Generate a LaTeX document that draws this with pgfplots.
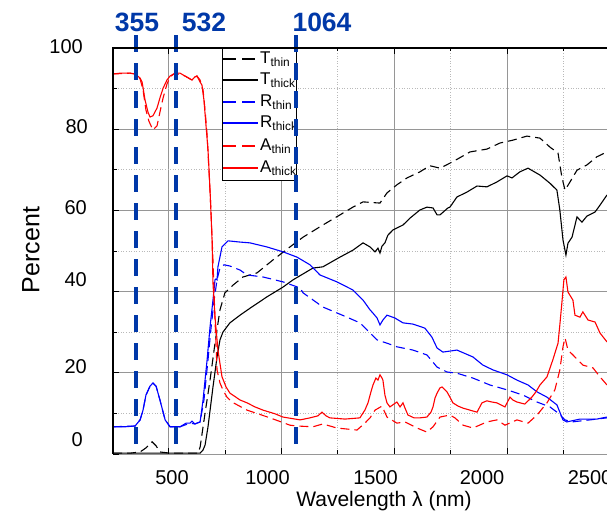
\documentclass[border=0pt]{standalone}
\usepackage{fontspec}
\setmainfont{Liberation Sans}
\usepackage{pgfplots}
\pgfplotsset{compat=1.18}
\definecolor{lblue}{RGB}{0,56,168}
\definecolor{gridmaj}{RGB}{150,150,150}
\definecolor{gridmin}{RGB}{185,185,185}
\begin{document}
\begin{tikzpicture}[x=1pt,y=1pt]
\useasboundingbox (-113,-62) rectangle (494,454);
\clip (-113,-62) rectangle (494,454);
\begin{axis}[
  at={(0,0)}, anchor=south west,
  scale only axis, width=494pt, height=406pt,
  xmin=254, xmax=2443, ymin=0, ymax=100,
  clip=false,
  axis line style={draw=none},
  xtick={500,1000,1500,2000},
  ytick={0,20,40,60,80,100},
  minor xtick={750,1250,1750,2250},
  minor ytick={10,30,50,70,90},
  xticklabels={,,,,}, yticklabels={,,,,,,},
  ytick pos=left,
  tick align=inside,
  major tick length=6pt, minor tick length=3.5pt,
  tick style={black, line width=0.8pt},
  grid=both,
  major grid style={gridmaj, line width=0.6pt},
  minor grid style={gridmin, line width=0.6pt, dotted},
]
% T thin
\addplot[black, line width=1.1pt, dash pattern=on 9pt off 5pt, forget plot] coordinates {
(254,0.2) (329,0.2) (374,0.5) (400,1.5) (427,3.0) (445,2.0) (462,0.5) (507,0.2) (631,0.2)
(640,1.7) (662,10.1) (684,18.2) (706,27.3) (728,35.5) (750,39.7) (786,41.6) (830,43.6)
(892,44.6) (963,47.8) (1038,51.0) (1096,53.4) (1184,56.4) (1260,58.9) (1317,60.8)
(1362,62.1) (1437,61.8) (1468,64.3) (1512,66.3) (1557,68.0) (1614,69.5) (1658,71.0)
(1703,70.4) (1760,72.0) (1836,74.4) (1911,75.1) (1969,76.6) (2026,77.3) (2088,78.3)
(2146,77.8) (2190,75.6) (2226,74.1) (2243,68.2) (2257,65.0) (2279,67.0) (2310,69.9)
(2354,71.2) (2398,73.2) (2443,74.4)};
% T thick
\addplot[black, line width=1.1pt, forget plot] coordinates {
(254,0.2) (640,0.2) (653,1.0) (662,2.2) (675,6.7) (697,16.5) (715,23.9) (728,28.1)
(741,30.0) (772,32.3) (817,34.2) (861,35.9) (936,38.7) (1007,41.1) (1052,42.9)
(1140,45.8) (1184,46.1) (1260,48.5) (1317,50.2) (1362,52.0) (1393,51.0) (1415,49.8)
(1428,50.7) (1437,49.5) (1446,51.2) (1459,52.0) (1472,53.9) (1495,55.2) (1539,56.4)
(1570,58.1) (1614,60.1) (1645,60.8) (1672,60.6) (1690,58.9) (1703,58.9) (1738,60.6)
(1747,60.8) (1778,63.3) (1822,64.5) (1867,66.0) (1911,65.8) (1955,67.0) (2000,68.5)
(2022,68.0) (2057,69.5) (2093,70.4) (2146,68.7) (2190,66.7) (2221,65.0) (2234,60.1)
(2248,52.7) (2261,49.0) (2270,51.9) (2288,53.4) (2310,58.4) (2332,57.1) (2354,58.6)
(2390,59.6) (2412,61.3) (2443,63.8)};
% R thin
\addplot[blue, line width=1.1pt, dash pattern=on 9pt off 5pt, forget plot] coordinates {
(254,6.7) (352,6.9) (374,8.4) (387,10.8) (400,14.5) (418,16.7) (431,17.5) (445,16.7)
(462,13.3) (485,8.4) (507,6.7) (551,6.7) (595,7.6) (617,7.4) (640,7.9) (657,13.3)
(675,23.2) (688,30.8) (702,37.9) (715,42.9) (728,45.8) (746,46.6) (772,46.3) (817,45.3)
(848,44.1) (919,43.6) (1007,42.4) (1083,40.9) (1096,39.7) (1184,36.2) (1291,33.7)
(1348,32.3) (1424,28.1) (1468,27.3) (1512,26.4) (1583,25.6) (1645,24.4) (1690,21.4)
(1734,20.2) (1778,19.9) (1849,18.7) (1924,17.0) (2000,15.8) (2071,14.5) (2133,12.8)
(2190,11.6) (2226,10.1) (2257,8.4) (2288,7.9) (2367,8.4) (2443,8.9)};
% R thick
\addplot[blue, line width=1.1pt, forget plot] coordinates {
(254,6.7) (307,6.7) (352,6.9) (374,8.4) (387,10.8) (400,14.5) (418,16.7) (431,17.5)
(445,16.7) (462,13.3) (485,8.4) (507,6.7) (551,6.7) (578,7.6) (595,7.6) (604,8.1)
(617,7.4) (640,7.9) (653,13.3) (671,23.2) (684,31.3) (697,37.9) (706,42.9) (710,43.1)
(715,42.9) (719,46.1) (737,51.0) (764,52.5) (817,52.2) (861,52.0) (936,51.0)
(1007,49.8) (1069,48.5) (1127,46.6) (1171,44.1) (1246,42.4) (1317,40.4) (1362,37.9)
(1393,35.5) (1406,34.7) (1424,33.5) (1437,31.8) (1450,33.0) (1468,34.2) (1503,33.5)
(1539,32.3) (1583,32.0) (1636,31.0) (1667,28.8) (1690,26.1) (1716,25.1) (1778,25.6)
(1849,23.9) (1893,21.9) (1938,20.7) (2000,19.5) (2044,18.2) (2093,17.0) (2133,15.3)
(2177,14.0) (2221,12.1) (2248,8.4) (2265,7.9) (2323,8.6) (2398,8.6) (2443,9.1)};
% A thin
\addplot[red, line width=1.1pt, dash pattern=on 9pt off 5pt, forget plot] coordinates {
(254,93.6) (329,93.8) (352,93.6) (374,92.4) (387,89.7) (400,84.7) (413,82.0) (431,79.8)
(449,80.8) (462,84.2) (476,87.7) (493,91.1) (507,92.9) (529,93.8) (573,93.1) (604,92.1)
(626,93.1) (640,92.1) (653,89.7) (662,84.7) (671,78.6) (679,70.0) (688,60.1) (697,47.8)
(706,33.0) (715,20.7) (728,17.5) (741,15.8) (759,14.0) (781,12.8) (848,10.8) (950,8.9)
(1038,7.1) (1069,6.9) (1140,6.7) (1184,7.4) (1246,6.4) (1335,5.9) (1370,7.6) (1393,8.9)
(1415,10.8) (1446,11.8) (1468,9.1) (1512,7.6) (1548,7.9) (1601,6.4) (1645,5.4)
(1672,6.7) (1703,9.1) (1747,9.6) (1769,8.9) (1805,7.1) (1849,6.4) (1911,7.9) (1955,8.4)
(1991,7.1) (2044,8.4) (2093,7.6) (2133,9.6) (2177,12.6) (2212,15.8) (2234,20.7)
(2248,26.4) (2257,28.6) (2270,25.6) (2292,24.4) (2336,21.9) (2381,21.2) (2412,19.0)
(2443,17.0)};
% A thick
\addplot[red, line width=1.1pt, forget plot] coordinates {
(254,93.6) (285,93.8) (329,93.8) (352,93.6) (374,92.6) (383,91.6) (396,87.2) (409,84.2)
(418,83.0) (431,83.3) (449,85.2) (462,87.7) (476,90.1) (493,92.1) (507,93.1) (529,93.8)
(551,93.8) (573,93.1) (595,92.4) (604,92.1) (617,92.9) (626,93.1) (640,91.6) (648,90.9)
(657,87.2) (666,81.0) (675,74.9) (684,65.0) (693,52.7) (697,42.1) (706,33.7) (719,25.6)
(737,19.0) (755,16.5) (772,15.0) (817,13.3) (848,12.6) (883,11.6) (919,10.8) (972,9.9)
(1007,9.1) (1083,8.4) (1127,8.9) (1162,9.4) (1180,10.3) (1198,9.4) (1215,8.9) (1282,8.6)
(1348,8.9) (1370,10.8) (1384,12.6) (1397,15.3) (1406,17.0) (1419,18.7) (1428,18.2)
(1437,19.5) (1446,18.7) (1450,18.2) (1459,14.5) (1468,12.6) (1481,11.6) (1499,12.3)
(1512,12.8) (1526,11.6) (1539,12.6) (1548,11.3) (1561,9.6) (1588,8.9) (1614,8.9)
(1645,9.1) (1663,10.3) (1672,11.6) (1681,13.8) (1690,15.0) (1703,16.3) (1712,16.5)
(1734,15.3) (1747,14.0) (1760,12.6) (1783,11.8) (1805,11.3) (1836,10.8) (1867,10.3)
(1889,12.6) (1911,13.1) (1933,12.8) (1955,12.6) (1991,11.6) (2013,14.0) (2026,13.3)
(2044,12.8) (2079,12.3) (2110,14.0) (2128,15.3) (2146,17.0) (2177,19.0) (2203,23.2)
(2226,27.3) (2234,31.8) (2243,37.2) (2252,42.9) (2261,43.6) (2270,39.9) (2292,37.9)
(2301,34.2) (2323,33.7) (2336,35.0) (2359,33.0) (2390,32.5) (2412,29.8) (2443,27.6)};
% legend
\draw[black, line width=0.8pt, fill=white] (rel axis cs:0.2206,1) rectangle (rel axis cs:0.3704,0.6749);
\draw[black, line width=1.3pt, dash pattern=on 13pt off 6pt] (rel axis cs:0.2227,0.9729) -- (rel axis cs:0.2935,0.9729);
\draw[black, line width=1.3pt] (rel axis cs:0.2227,0.9212) -- (rel axis cs:0.2935,0.9212);
\draw[blue, line width=1.3pt, dash pattern=on 13pt off 6pt] (rel axis cs:0.2227,0.8670) -- (rel axis cs:0.2935,0.8670);
\draw[blue, line width=1.3pt] (rel axis cs:0.2227,0.8153) -- (rel axis cs:0.2935,0.8153);
\draw[red, line width=1.3pt, dash pattern=on 13pt off 6pt] (rel axis cs:0.2227,0.7586) -- (rel axis cs:0.2935,0.7586);
\draw[red, line width=1.3pt] (rel axis cs:0.2227,0.7044) -- (rel axis cs:0.2935,0.7044);
\begin{scope}[every node/.style={anchor=west, inner sep=0pt, font=\fontsize{17}{18}\selectfont}]
\node at (rel axis cs:0.2976,0.9729) {T\textsubscript{thin}};
\node at (rel axis cs:0.2976,0.9212) {T\textsubscript{thick}};
\node at (rel axis cs:0.2976,0.8670) {R\textsubscript{thin}};
\node at (rel axis cs:0.2976,0.8153) {R\textsubscript{thick}};
\node at (rel axis cs:0.2976,0.7586) {A\textsubscript{thin}};
\node at (rel axis cs:0.2976,0.7044) {A\textsubscript{thick}};
\end{scope}
% laser wavelength markers
\addplot[lblue, line width=4pt, dash pattern=on 17pt off 11pt, forget plot] coordinates {(355,103.2) (355,0.5)};
\addplot[lblue, line width=4pt, dash pattern=on 17pt off 11pt, forget plot] coordinates {(532,103.2) (532,0.5)};
\addplot[lblue, line width=4pt, dash pattern=on 17pt off 11pt, forget plot] coordinates {(1064,103.2) (1064,0.5)};
\draw[black, line width=1.2pt] (rel axis cs:0,0) -- (rel axis cs:0,1) -- (rel axis cs:1,1);
\end{axis}
% tick labels
\begin{scope}[every node/.style={font=\fontsize{20}{20}\selectfont, inner sep=0pt}]
\node[anchor=east] at (-30,407) {100};
\node[anchor=east] at (-25,327) {80};
\node[anchor=east] at (-26,246) {60};
\node[anchor=east] at (-26,174) {40};
\node[anchor=east] at (-26,87) {20};
\node[anchor=east] at (-30,14) {0};
\node at (59,-24) {500};
\node at (154.5,-24) {1000};
\node at (262.5,-24) {1500};
\node at (369,-24) {2000};
\node at (477,-24) {2500};
\end{scope}
\node[rotate=90, inner sep=0pt, font=\fontsize{25}{25}\selectfont] at (-82,204) {Percent};
\node[inner sep=0pt, font=\fontsize{21}{21}\selectfont] at (271,-47) {Wavelength λ (nm)};
\begin{scope}[every node/.style={font=\fontsize{26.5}{26.5}\selectfont\bfseries, text=lblue, inner sep=0pt}]
\node at (24,432) {355};
\node at (91,432) {532};
\node at (209,432) {1064};
\end{scope}
\end{tikzpicture}
\end{document}
